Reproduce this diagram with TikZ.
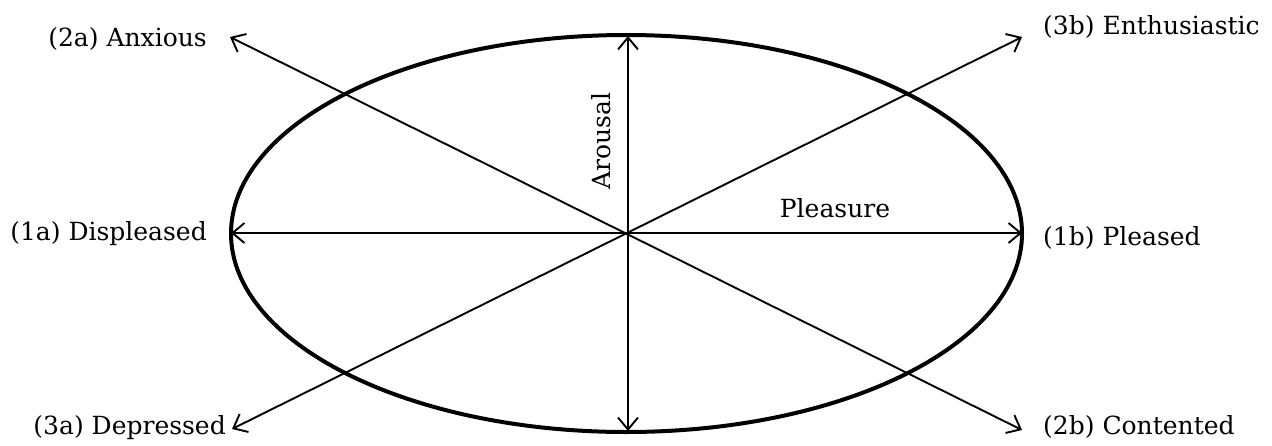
\documentclass[tikz,border=0pt]{standalone}
\usepackage{fontspec}
\setmainfont{DejaVu Serif}
\usetikzlibrary{arrows.meta}
\begin{document}
\begin{tikzpicture}[x=1pt,y=-1pt,
  axis/.style={line width=1.9pt,{Straight Barb[length=12pt,width=20pt,line width=1.9pt]}-{Straight Barb[length=12pt,width=20pt,line width=1.9pt]}},
  lab/.style={font=\fontsize{25}{28}\selectfont,inner sep=0pt}]
\useasboundingbox (0,0) rectangle (1272,445);
\draw[line width=4pt] (626.5,233.5) ellipse [x radius=395.5, y radius=198.5];
\coordinate (c) at (627,233);
\coordinate (anx) at (230,37);
\coordinate (con) at (1022,430);
\coordinate (ent) at (1022,37);
\coordinate (dep) at (232,429);
\coordinate (dis) at (231,233);
\coordinate (ple) at (1022,233);
\coordinate (top) at (628,36);
\coordinate (bot) at (628,431);
\draw[axis] (anx) -- (con);
\draw[axis] (ent) -- (dep);
\draw[axis] (dis) -- (ple);
\draw[axis] (top) -- (bot);
\node[lab,anchor=east] (tanx) at (207,39) {(2a) Anxious};
\node[lab,anchor=west] (tent) at (1043,27) {(3b) Enthusiastic};
\node[lab,anchor=east] (tdis) at (207,234) {(1a) Displeased};
\node[lab,anchor=west] (tple) at (1043,238) {(1b) Pleased};
\node[lab,anchor=east] (tdep) at (226,428) {(3a) Depressed};
\node[lab,anchor=west] (tcon) at (1043,427) {(2b) Contented};
\node[lab,rotate=90] (taro) at (601,141) {Arousal};
\node[lab] (tpl) at (835,208) {Pleasure};
\end{tikzpicture}
\end{document}
